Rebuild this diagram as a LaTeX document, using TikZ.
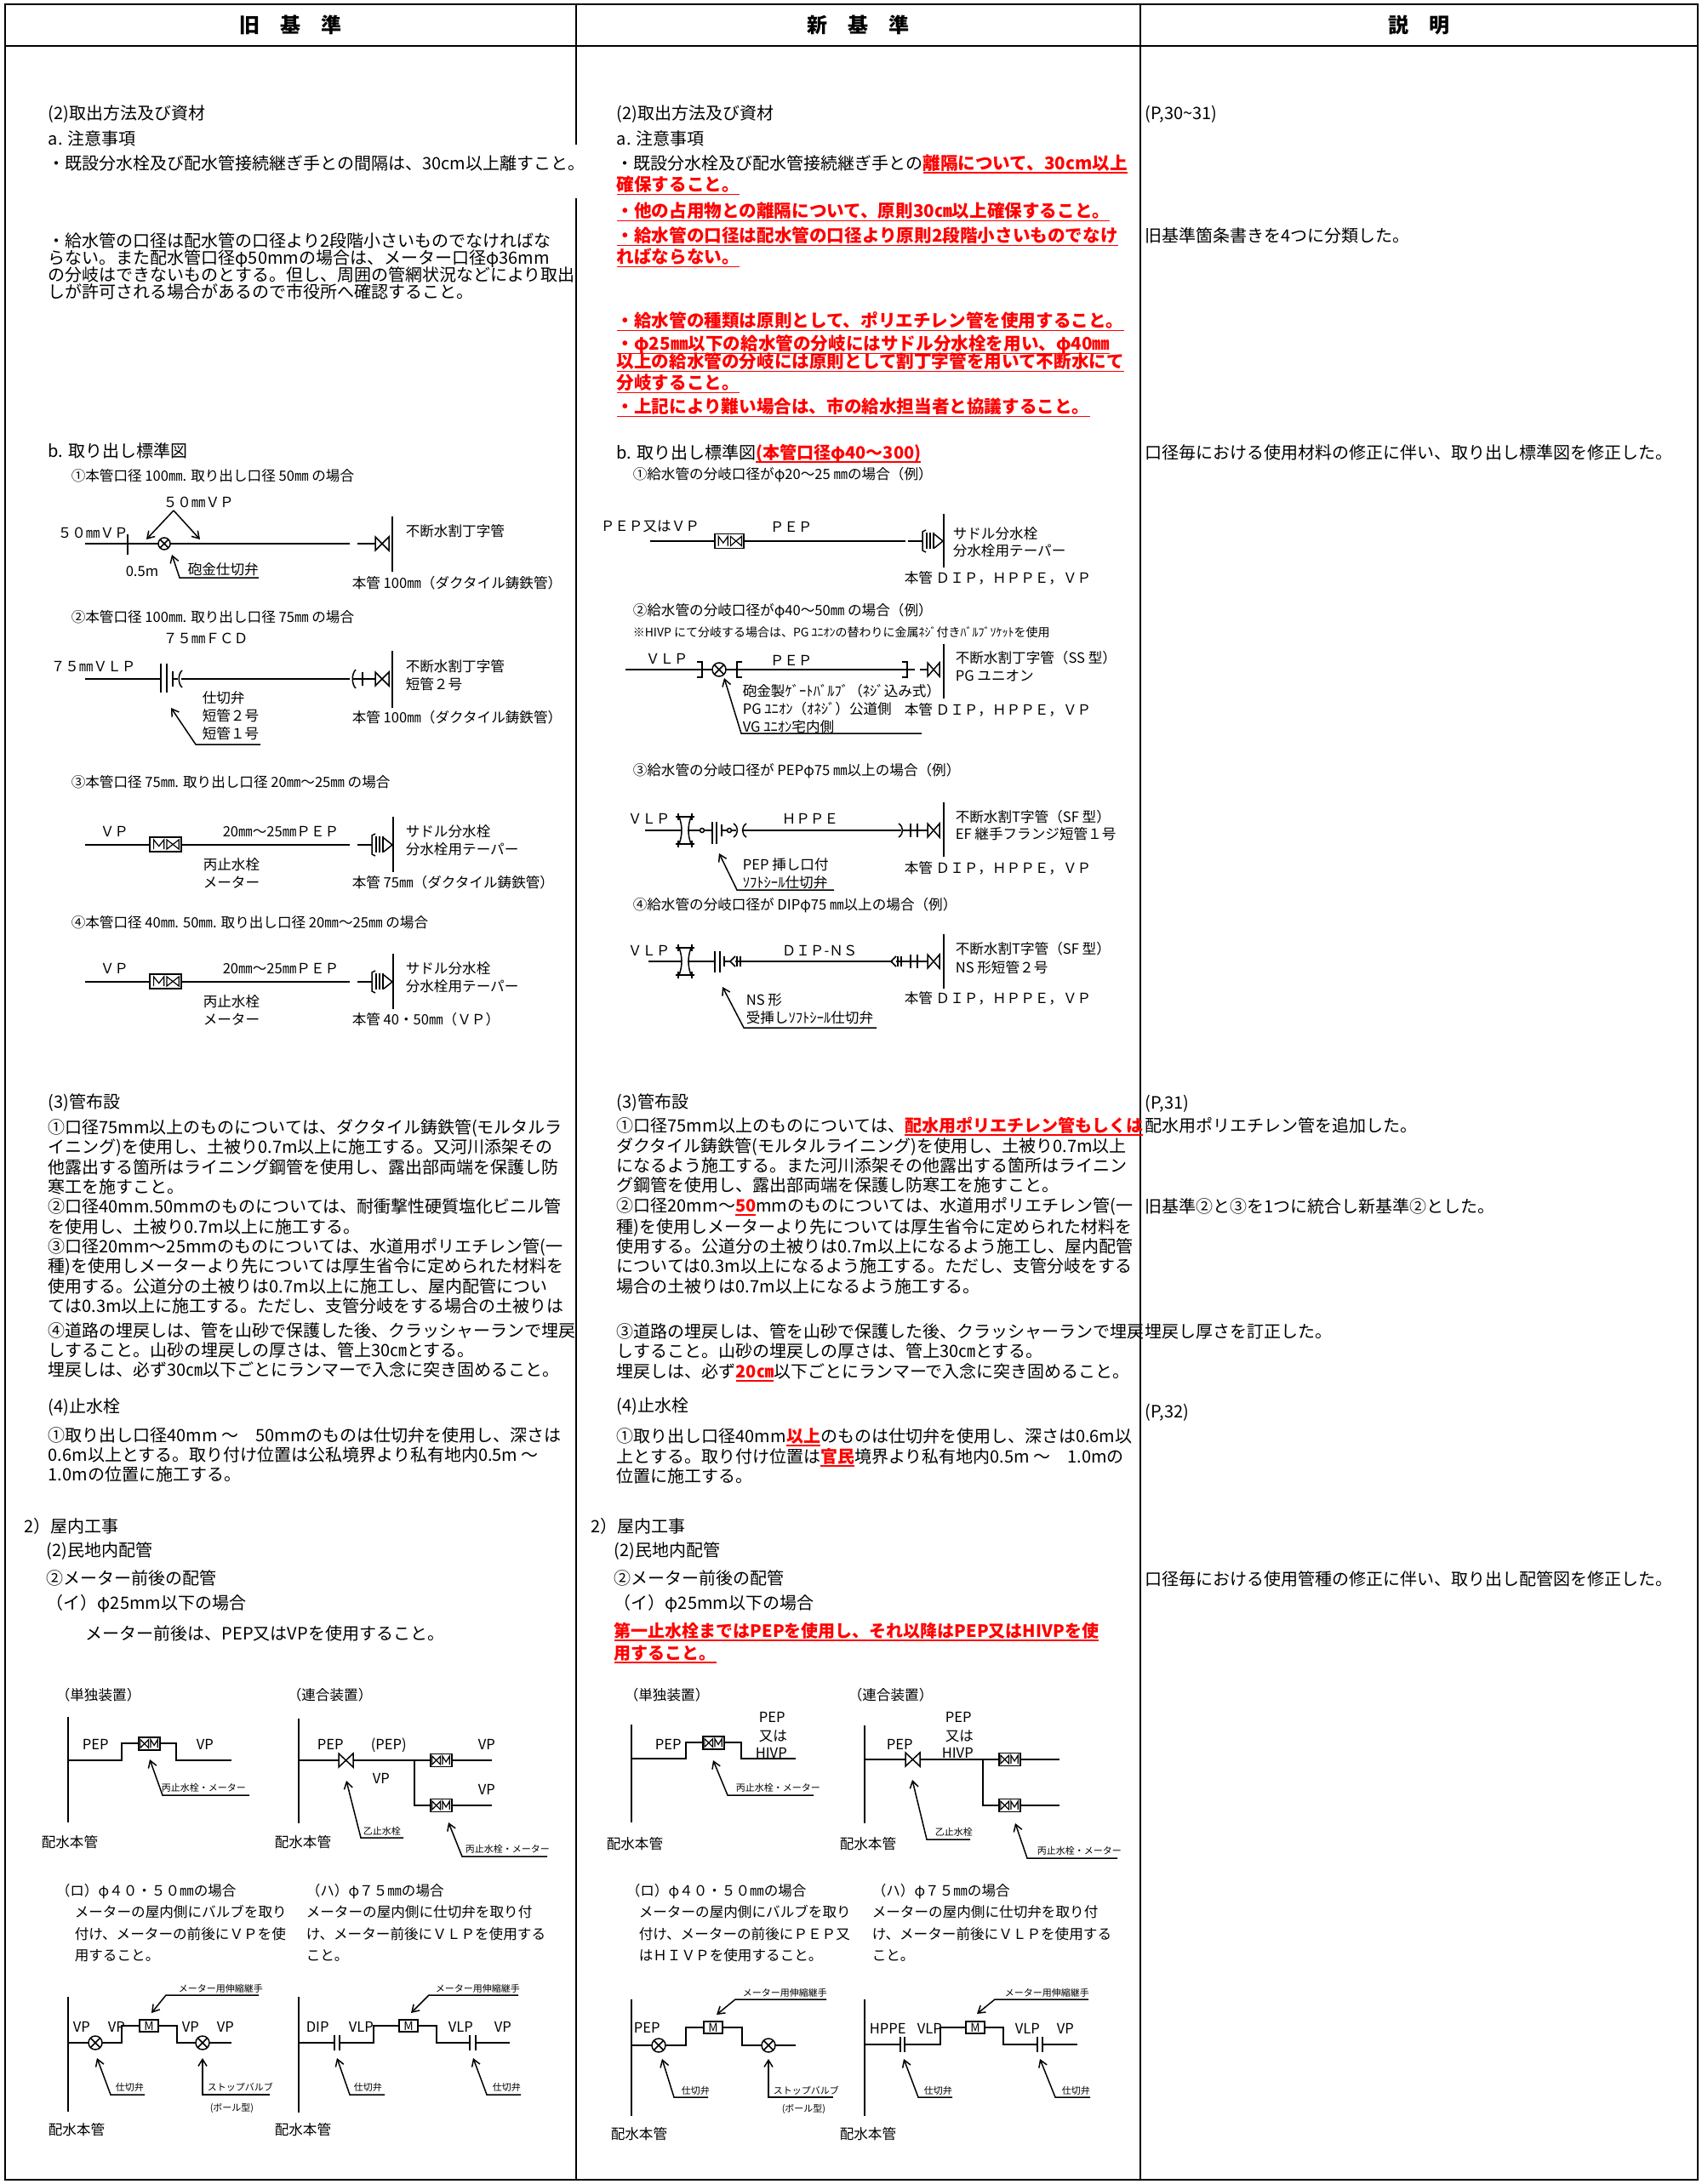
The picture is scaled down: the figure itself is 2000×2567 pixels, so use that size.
\documentclass[tikz,border=0pt]{standalone}
\usepackage{fontspec}
\setmainfont{Noto Sans CJK JP}
\usetikzlibrary{arrows.meta}
\definecolor{rd}{RGB}{255,0,0}
\newcommand\fbody{\fontsize{10pt}{12pt}\selectfont}
\newcommand\fred{\fontsize{10.3pt}{12pt}\selectfont}
\newcommand\fhead{\fontsize{12pt}{14pt}\selectfont\bfseries}
\newcommand\fdia{\fontsize{8.3pt}{10pt}\selectfont}
\newcommand\fsm{\fontsize{7pt}{8pt}\selectfont}
\newcommand\flab{\fontsize{5.5pt}{6pt}\selectfont}
\newcommand\ru[1]{\textcolor{rd}{\bfseries\setbox0\hbox{#1}\rlap{\rule[-2.3pt]{\wd0}{0.9pt}}\box0}}
% M + valve box
\newcommand\MVbox[4]{\begin{scope}[shift={(#1,#2)}]
 \draw[fill=white,line width=0.9pt] ({-#3},{-#4}) rectangle ({#3},{#4});
 \draw[line width=0.6pt] ({-0.75*#3},{0.65*#4})--({-0.75*#3},{-0.65*#4})--({-0.42*#3},{0.25*#4})--({-0.1*#3},{-0.65*#4})--({-0.1*#3},{0.65*#4});
 \draw[line width=0.6pt] ({0.08*#3},{-0.65*#4})--({0.08*#3},{0.65*#4})--({0.85*#3},{-0.65*#4})--({0.85*#3},{0.65*#4})--cycle;
 \end{scope}}
\newcommand\VMbox[4]{\begin{scope}[shift={(#1,#2)}]
 \draw[fill=white,line width=0.9pt] ({-#3},{-#4}) rectangle ({#3},{#4});
 \draw[line width=0.6pt] ({0.12*#3},{0.65*#4})--({0.12*#3},{-0.65*#4})--({0.45*#3},{0.25*#4})--({0.78*#3},{-0.65*#4})--({0.78*#3},{0.65*#4});
 \draw[line width=0.6pt] ({-0.85*#3},{-0.65*#4})--({-0.85*#3},{0.65*#4})--({-0.08*#3},{-0.65*#4})--({-0.08*#3},{0.65*#4})--cycle;
 \end{scope}}
\newcommand\GV[4]{\draw[fill=white] (#1,#3)--(#1,#4)--(#2,#3)--(#2,#4)--cycle;}
\newcommand\CV[3]{\draw[fill=white] (#1,#2) circle[radius=#3];
 \draw ({#1-0.7*#3},{#2-0.7*#3})--({#1+0.7*#3},{#2+0.7*#3}) ({#1-0.7*#3},{#2+0.7*#3})--({#1+0.7*#3},{#2-0.7*#3});}
\newcommand\SDL[2]{\draw ({#1-42},#2)--({#1-25},#2);
 \draw ({#1-21},{#2-13})--({#1-25},{#2-11})--({#1-25},{#2+11})--({#1-21},{#2+13});
 \draw ({#1-20},{#2-10})--({#1-20},{#2+9}) ({#1-16},{#2-10})--({#1-16},{#2+9}) ({#1-12},{#2-10})--({#1-12},{#2+9});
 \draw ({#1-11},{#2-8})--({#1-1},#2)--({#1-11},{#2+8});}
\newcommand\HG[2]{\draw ({#1-11},{#2-16})--({#1+11},{#2-16}) ({#1-11},{#2+16})--({#1+11},{#2+16});
 \draw ({#1-8},{#2-20})--({#1-8},{#2-12}) ({#1+8},{#2-20})--({#1+8},{#2-12}) ({#1-8},{#2+12})--({#1-8},{#2+20}) ({#1+8},{#2+12})--({#1+8},{#2+20});
 \draw ({#1-7},{#2-16}) .. controls ({#1-3},{#2-5}) and ({#1-3},{#2+5}) .. ({#1-7},{#2+16});
 \draw ({#1+7},{#2-16}) .. controls ({#1+3},{#2-5}) and ({#1+3},{#2+5}) .. ({#1+7},{#2+16});}
\begin{document}
\begin{tikzpicture}[x=0.5pt,y=-0.5pt,line width=0.75pt,
 T/.style={anchor=base west,inner sep=0pt,font=\fbody,yshift=-3.8pt},
 TR/.style={anchor=base west,inner sep=0pt,font=\fred,yshift=-3.9pt},
 H/.style={anchor=base,inner sep=0pt,font=\fhead,yshift=-4.6pt},
 D/.style={anchor=base west,inner sep=0pt,font=\fdia,yshift=-3.15pt},
 S/.style={anchor=base west,inner sep=0pt,font=\fsm,yshift=-2.65pt},
 L/.style={anchor=base west,inner sep=0pt,font=\flab,yshift=-2.1pt},
 arr/.style={-{Straight Barb[length=4pt,width=5pt]}},
 frame/.style={line width=1pt},
 mbox/.style={draw,fill=white,line width=0.9pt,inner sep=0pt,minimum width=11pt,minimum height=7pt,font=\fsm}]
\useasboundingbox (0,0) rectangle (2000,2567);
\fill[white] (0,0) rectangle (2000,2567);
% ---------- table ----------
\draw[frame] (6,5) rectangle (1995,2562);
\draw[frame] (6,54)--(1995,54);
\draw[frame] (677,5)--(677,170) (677,233)--(677,2562);
\draw[frame] (1340,5)--(1340,2562);
\node[H] (h1) at (341.5,29) {旧　基　準};
\node[H] (h2) at (1008.5,29) {新　基　準};
\node[H] (h3) at (1667.5,29) {説　明};
% ---------- LEFT text ----------
\node[T] (l1) at (56,133) {(2)取出方法及び資材};
\node[T] (l2) at (56,163) {a. 注意事項};
\node[T] (l3) at (56,192) {・既設分水栓及び配水管接続継ぎ手との間隔は、30cm以上離すこと。};
\node[T] (l4) at (56,283) {・給水管の口径は配水管の口径より2段階小さいものでなければな};
\node[T] (l5) at (56,303) {らない。また配水管口径φ50mmの場合は、メーター口径φ36mm};
\node[T] (l6) at (56,323) {の分岐はできないものとする。但し、周囲の管網状況などにより取出};
\node[T] (l7) at (56,343) {しが許可される場合があるので市役所へ確認すること。};
\node[T] (l8) at (56,530) {b. 取り出し標準図};
% left diagram 1
\node[D] (ld1) at (83,559) {①本管口径 100㎜. 取り出し口径 50㎜ の場合};
\node[D] (ld2) at (191,590) {５０㎜ＶＰ};
\node[D] (ld3) at (67,626) {５０㎜ＶＰ};
\draw (100,639)--(411,639);
\draw (150,628)--(150,652);
\CV{193}{639}{7}
\draw (420,639)--(441,639);
\GV{441}{457}{631}{647}
\draw (461,607)--(461,672);
\coordinate (la1) at (204,600);
\draw[arr] (la1)--(172,634);
\draw[arr] (la1)--(235,634);
\node[D] (ld4) at (476,624) {不断水割丁字管};
\node[D] (ld5) at (147,671) {0.5m};
\node[D] (ld6) at (220,669) {砲金仕切弁};
\draw[arr] (304,679)--(211,679)--(202,652);
\node[D] (ld7) at (413,685) {本管 100㎜（ダクタイル鋳鉄管）};
% left diagram 2
\node[D] (ld8) at (83,725) {②本管口径 100㎜. 取り出し口径 75㎜ の場合};
\node[D] (ld9) at (191,750) {７５㎜ＦＣＤ};
\node[D] (ld10) at (59,783) {７５㎜ＶＬＰ};
\draw (100,798)--(189,798);
\draw (189,780)--(189,814) (196,780)--(196,814);
\draw (203,789)--(203,807) (203,798)--(209,798);
\draw (214,788) .. controls (209,792) and (209,804) .. (214,808);
\draw (213,798)--(411,798);
\draw (418,787) .. controls (413,792) and (413,804) .. (418,809);
\draw (415,798)--(441,798);
\draw (426,790)--(426,806);
\GV{441}{457}{790}{806}
\draw (461,765)--(461,832);
\node[D] (ld11) at (476,783) {不断水割丁字管};
\node[D] (ld12) at (476,804) {短管２号};
\node[D] (ld13) at (237,820) {仕切弁};
\node[D] (ld14) at (237,841) {短管２号};
\node[D] (ld15) at (237,862) {短管１号};
\draw[arr] (306,875)--(230,875)--(201,832);
\node[D] (ld16) at (413,843) {本管 100㎜（ダクタイル鋳鉄管）};
% left diagram 3
\node[D] (ld17) at (83,919) {③本管口径 75㎜. 取り出し口径 20㎜〜25㎜ の場合};
\node[D] (ld18) at (117,977) {ＶＰ};
\draw (100,993)--(411,993);
\MVbox{194.5}{992.5}{18.5}{8.5}
\SDL{462}{993}
\draw (462,960)--(462,1025);
\node[D] (ld19) at (261,977) {20㎜〜25㎜ＰＥＰ};
\node[D] (ld20) at (476,977) {サドル分水栓};
\node[D] (ld21) at (476,998) {分水栓用テーパー};
\node[D] (ld22) at (238,1016) {丙止水栓};
\node[D] (ld23) at (238,1037) {メーター};
\node[D] (ld24) at (413,1037) {本管 75㎜（ダクタイル鋳鉄管）};
% left diagram 4
\node[D] (ld25) at (83,1084) {④本管口径 40㎜. 50㎜. 取り出し口径 20㎜〜25㎜ の場合};
\node[D] (ld26) at (117,1138) {ＶＰ};
\draw (100,1154)--(411,1154);
\MVbox{194.5}{1153.5}{18.5}{8.5}
\SDL{462}{1154}
\draw (462,1121)--(462,1186);
\node[D] (ld27) at (261,1138) {20㎜〜25㎜ＰＥＰ};
\node[D] (ld28) at (476,1138) {サドル分水栓};
\node[D] (ld29) at (476,1159) {分水栓用テーパー};
\node[D] (ld30) at (238,1177) {丙止水栓};
\node[D] (ld31) at (238,1198) {メーター};
\node[D] (ld32) at (413,1198) {本管 40・50㎜（ＶＰ）};
% left section 3
\node[T] (l9) at (56,1295) {(3)管布設};
\node[T] (l10) at (56,1325) {①口径75mm以上のものについては、ダクタイル鋳鉄管(モルタルラ};
\node[T] (l11) at (56,1348) {イニング)を使用し、土被り0.7m以上に施工する。又河川添架その};
\node[T] (l12) at (56,1372) {他露出する箇所はライニング鋼管を使用し、露出部両端を保護し防};
\node[T] (l13) at (56,1395) {寒工を施すこと。};
\node[T] (l14) at (56,1418) {②口径40mm.50mmのものについては、耐衝撃性硬質塩化ビニル管};
\node[T] (l15) at (56,1442) {を使用し、土被り0.7m以上に施工する。};
\node[T] (l16) at (56,1465) {③口径20mm〜25mmのものについては、水道用ポリエチレン管(一};
\node[T] (l17) at (56,1488) {種)を使用しメーターより先については厚生省令に定められた材料を};
\node[T] (l18) at (56,1512) {使用する。公道分の土被りは0.7m以上に施工し、屋内配管につい};
\node[T] (l19) at (56,1535) {ては0.3m以上に施工する。ただし、支管分岐をする場合の土被りは};
\node[T] (l20) at (56,1564) {④道路の埋戻しは、管を山砂で保護した後、クラッシャーランで埋戻};
\node[T] (l21) at (56,1587) {しすること。山砂の埋戻しの厚さは、管上30㎝とする。};
\node[T] (l22) at (56,1610) {埋戻しは、必ず30㎝以下ごとにランマーで入念に突き固めること。};
\node[T] (l23) at (56,1653) {(4)止水栓};
\node[T] (l24) at (56,1687) {①取り出し口径40mm 〜　50mmのものは仕切弁を使用し、深さは};
\node[T] (l25) at (56,1710) {0.6m以上とする。取り付け位置は公私境界より私有地内0.5m 〜};
\node[T] (l26) at (56,1733) {1.0mの位置に施工する。};
\node[T] (l27) at (28,1794) {2）屋内工事};
\node[T] (l28) at (54,1822) {(2)民地内配管};
\node[T] (l29) at (54,1855) {②メーター前後の配管};
\node[T] (l30) at (54,1884) {（イ）φ25mm以下の場合};
\node[T] (l31) at (100,1920) {メーター前後は、PEP又はVPを使用すること。};
% left lower diagrams
\node[D] (lu1) at (65,1992) {（単独装置）};
\draw (80,2018)--(80,2142);
\draw (80,2069)--(143,2069)--(143,2049)--(207,2049)--(207,2069)--(272,2069);
\VMbox{175.5}{2049.5}{12.5}{7.5}
\node[D] (lu2) at (96,2050) {PEP};
\node[D] (lu3) at (230,2050) {VP};
\draw[arr] (293,2110)--(191,2110)--(176,2068);
\node[L] (lu4) at (189,2101) {丙止水栓・メーター};
\node[D] (lu5) at (48,2165) {配水本管};
\node[D] (lu6) at (337,1992) {（連合装置）};
\draw (351,2020)--(351,2143);
\draw (351,2069)--(578,2069);
\GV{398}{415}{2061}{2077}
\draw (487,2069)--(487,2122)--(578,2122);
\VMbox{518.5}{2069}{12.5}{7.5}
\VMbox{518.5}{2122}{12.5}{7.5}
\node[D] (lu7) at (372,2050) {PEP};
\node[D] (lu8) at (435,2050) {(PEP)};
\node[D] (lu9) at (437,2090) {VP};
\node[D] (lu10) at (561,2050) {VP};
\node[D] (lu11) at (561,2103) {VP};
\draw[arr] (474,2160)--(424,2160)--(407,2093);
\node[L] (lu12) at (426,2152) {乙止水栓};
\draw[arr] (643,2182)--(543,2182)--(527,2142);
\node[L] (lu13) at (546,2173) {丙止水栓・メーター};
\node[D] (lu14) at (322,2165) {配水本管};
\node[D] (lu15) at (65,2222) {（ロ）φ４０・５０㎜の場合};
\node[D] (lu16) at (87,2247) {メーターの屋内側にバルブを取り};
\node[D] (lu17) at (87,2273) {付け、メーターの前後にＶＰを使};
\node[D] (lu18) at (87,2298) {用すること。};
\node[D] (lu19) at (359,2222) {（ハ）φ７５㎜の場合};
\node[D] (lu20) at (359,2247) {メーターの屋内側に仕切弁を取り付};
\node[D] (lu21) at (359,2273) {け、メーター前後にＶＬＰを使用する};
\node[D] (lu22) at (359,2298) {こと。};
% (ro) left
\draw (80,2347)--(80,2482);
\draw (80,2401)--(143,2401)--(143,2381)--(208,2381)--(208,2401)--(272,2401);
\CV{112}{2401}{8}
\CV{238}{2401}{8}
\node[mbox] (lm1) at (175,2381) {M};
\node[D] (lu23) at (85,2382) {VP};
\node[D] (lu24) at (126,2382) {VP};
\node[D] (lu25) at (213,2382) {VP};
\node[D] (lu26) at (254,2382) {VP};
\node[L] (lu27) at (209,2337) {メーター用伸縮継手};
\draw[arr] (304,2345)--(195,2345)--(178,2366);
\draw[arr] (170,2462)--(130,2462)--(114,2419);
\node[L] (lu28) at (135,2453) {仕切弁};
\draw[arr] (317,2462)--(238,2462)--(238,2419);
\node[L] (lu29) at (243,2453) {ストップバルブ};
\node[L] (lu30) at (246,2477) {(ボール型)};
\node[D] (lu31) at (56,2503) {配水本管};
% (ha) left
\draw (351,2347)--(351,2483);
\draw (351,2401)--(393,2401) (399,2401)--(439,2401)--(439,2381)--(513,2381)--(513,2401)--(552,2401) (559,2401)--(599,2401);
\draw (393,2392)--(393,2410) (399,2392)--(399,2410) (552,2392)--(552,2410) (559,2392)--(559,2410);
\node[mbox] (lm2) at (480,2381) {M};
\node[D] (lu32) at (359,2382) {DIP};
\node[D] (lu33) at (409,2382) {VLP};
\node[D] (lu34) at (526,2382) {VLP};
\node[D] (lu35) at (580,2382) {VP};
\node[L] (lu36) at (511,2337) {メーター用伸縮継手};
\draw[arr] (609,2345)--(504,2345)--(483,2366);
\draw[arr] (452,2462)--(411,2462)--(396,2419);
\node[L] (lu37) at (415,2453) {仕切弁};
\draw[arr] (612,2462)--(572,2462)--(556,2419);
\node[L] (lu38) at (578,2453) {仕切弁};
\node[D] (lu39) at (322,2503) {配水本管};
% ---------- MIDDLE text ----------
\node[T] (m1) at (724,133) {(2)取出方法及び資材};
\node[T] (m2) at (724,163) {a. 注意事項};
\node[T] (m3) at (724,192) {・既設分水栓及び配水管接続継ぎ手との{\fred\ru{離隔について、30cm以上}}};
\node[TR] (m4) at (724,217) {\ru{確保すること。}};
\node[TR] (m5) at (724,248) {\ru{・他の占用物との離隔について、原則30㎝以上確保すること。}};
\node[TR] (m6) at (724,277) {\ru{・給水管の口径は配水管の口径より原則2段階小さいものでなけ}};
\node[TR] (m7) at (724,302) {\ru{ればならない。}};
\node[TR] (m8) at (724,377) {\ru{・給水管の種類は原則として、ポリエチレン管を使用すること。}};
\node[TR] (m9) at (724,404) {\ru{・φ25㎜以下の給水管の分岐にはサドル分水栓を用い、φ40㎜}};
\node[TR] (m10) at (724,425) {\ru{以上の給水管の分岐には原則として割丁字管を用いて不断水にて}};
\node[TR] (m11) at (724,450) {\ru{分岐すること。}};
\node[TR] (m12) at (724,478) {\ru{・上記により難い場合は、市の給水担当者と協議すること。}};
\node[T] (m13) at (724,532) {b. 取り出し標準図\ru{(本管口径φ40〜300)}};
% middle diagram 1
\node[D] (md1) at (743,557) {①給水管の分岐口径がφ20〜25 ㎜の場合（例）};
\node[D] (md2) at (705,618) {ＰＥＰ又はＶＰ};
\draw (764,636)--(1064,636);
\MVbox{857}{636}{17}{8.5}
\node[D] (md3) at (904,619) {ＰＥＰ};
\SDL{1109}{636}
\draw (1109,604)--(1109,667);
\node[D] (md4) at (1119,627) {サドル分水栓};
\node[D] (md5) at (1119,647) {分水栓用テーパー};
\node[D] (md6) at (1062,679) {本管 ＤＩＰ，ＨＰＰＥ，ＶＰ};
% middle diagram 2
\node[D] (md7) at (743,717) {②給水管の分岐口径がφ40〜50㎜ の場合（例）};
\node[S] (md8) at (743,743) {※HIVP にて分岐する場合は、PG ﾕﾆｵﾝの替わりに金属ﾈｼﾞ付きﾊﾞﾙﾌﾞｿｹｯﾄを使用};
\node[D] (md9) at (758,774) {ＶＬＰ};
\draw (735,787)--(825,787);
\draw (819,778)--(825,778)--(825,796)--(819,796);
\draw (825,787)--(866,787);
\CV{845}{787}{8}
\draw (872,778)--(866,778)--(866,796)--(872,796);
\draw (866,787)--(1066,787);
\draw (1060,778)--(1066,778)--(1066,796)--(1060,796);
\draw (1066,787)--(1075,787) (1081,787)--(1090,787);
\GV{1090}{1104}{779}{795}
\draw (1109,757)--(1109,821);
\node[D] (md10) at (904,776) {ＰＥＰ};
\node[D] (md11) at (1122,773) {不断水割丁字管（SS 型）};
\node[D] (md12) at (1122,794) {PG ユニオン};
\node[D] (md13) at (872,812) {砲金製ｹﾞｰﾄﾊﾞﾙﾌﾞ（ﾈｼﾞ込み式）};
\node[D] (md14) at (872,833) {PG ﾕﾆｵﾝ（ｵﾈｼﾞ）公道側};
\node[D] (md15) at (872,854) {VG ﾕﾆｵﾝ宅内側};
\draw[arr] (1083,862)--(871,862)--(851,797);
\node[D] (md16) at (1062,834) {本管 ＤＩＰ，ＨＰＰＥ，ＶＰ};
% middle diagram 3
\node[D] (md17) at (743,905) {③給水管の分岐口径が PEPφ75 ㎜以上の場合（例）};
\node[D] (md18) at (737,962) {ＶＬＰ};
\draw (758,976)--(801,976);
\HG{805}{976}
\draw (808,976)--(822.5,976);
\draw (825,976) circle[radius=2.5];
\draw (827.5,976)--(837,976);
\draw (837,966)--(837,992) (842,966)--(842,992);
\draw (848,969)--(848,983) (848,976)--(854.5,976);
\draw (857,976) circle[radius=2.5];
\draw (859.5,976)--(865,976);
\draw (862,968) .. controls (868,972) and (868,980) .. (862,984);
\draw (877,968) .. controls (871,972) and (871,980) .. (877,984);
\draw (872,976)--(1059,976);
\draw (1056,968) .. controls (1062,972) and (1062,980) .. (1056,984);
\draw (1061,976)--(1090,976);
\draw (1070,968)--(1070,984) (1078,968)--(1078,984);
\GV{1090}{1104}{968}{984}
\draw (1109,943)--(1109,1007);
\node[D] (md19) at (918,962) {ＨＰＰＥ};
\node[D] (md20) at (1122,960) {不断水割T字管（SF 型）};
\node[D] (md21) at (1122,980) {EF 継手フランジ短管１号};
\node[D] (md22) at (872,1016) {PEP 挿し口付};
\node[D] (md23) at (872,1037) {ｿﾌﾄｼｰﾙ仕切弁};
\draw[arr] (980,1046)--(866,1046)--(845,1003);
\node[D] (md24) at (1062,1020) {本管 ＤＩＰ，ＨＰＰＥ，ＶＰ};
% middle diagram 4
\node[D] (md25) at (743,1063) {④給水管の分岐口径が DIPφ75 ㎜以上の場合（例）};
\node[D] (md26) at (737,1117) {ＶＬＰ};
\draw (762,1130)--(801,1130);
\HG{805}{1130}
\draw (808,1130)--(840,1130);
\draw (840,1118)--(840,1143) (846,1118)--(846,1143);
\draw (851,1124)--(851,1136) (851,1130)--(858,1130);
\draw (864,1124)--(858,1130)--(864,1136);
\draw (866,1124)--(866,1136) (870,1124)--(870,1136);
\draw (864,1130)--(1049,1130);
\draw (1053,1124)--(1047,1130)--(1053,1136);
\draw (1055,1124)--(1055,1136) (1059,1124)--(1059,1136);
\draw (1053,1130)--(1090,1130);
\draw (1070,1122)--(1070,1138) (1078,1122)--(1078,1138);
\GV{1090}{1104}{1122}{1138}
\draw (1109,1098)--(1109,1162);
\node[D] (md27) at (918,1117) {ＤＩＰ-ＮＳ};
\node[D] (md28) at (1122,1115) {不断水割T字管（SF 型）};
\node[D] (md29) at (1122,1137) {NS 形短管２号};
\node[D] (md30) at (876,1175) {NS 形};
\node[D] (md31) at (876,1196) {受挿しｿﾌﾄｼｰﾙ仕切弁};
\draw[arr] (1030,1208)--(874,1208)--(849,1160);
\node[D] (md32) at (1062,1173) {本管 ＤＩＰ，ＨＰＰＥ，ＶＰ};
% middle section 3
\node[T] (m14) at (724,1295) {(3)管布設};
\node[T] (m15) at (724,1323) {①口径75mm以上のものについては、\ru{配水用ポリエチレン管もしくは}};
\node[T] (m16) at (724,1347) {ダクタイル鋳鉄管(モルタルライニング)を使用し、土被り0.7m以上};
\node[T] (m17) at (724,1370) {になるよう施工する。また河川添架その他露出する箇所はライニン};
\node[T] (m18) at (724,1393) {グ鋼管を使用し、露出部両端を保護し防寒工を施すこと。};
\node[T] (m19) at (724,1417) {②口径20mm〜\ru{50}mmのものについては、水道用ポリエチレン管(一};
\node[T] (m20) at (724,1442) {種)を使用しメーターより先については厚生省令に定められた材料を};
\node[T] (m21) at (724,1465) {使用する。公道分の土被りは0.7m以上になるよう施工し、屋内配管};
\node[T] (m22) at (724,1488) {については0.3m以上になるよう施工する。ただし、支管分岐をする};
\node[T] (m23) at (724,1512) {場合の土被りは0.7m以上になるよう施工する。};
\node[T] (m24) at (724,1565) {③道路の埋戻しは、管を山砂で保護した後、クラッシャーランで埋戻};
\node[T] (m25) at (724,1588) {しすること。山砂の埋戻しの厚さは、管上30㎝とする。};
\node[T] (m26) at (724,1612) {埋戻しは、必ず\ru{20㎝}以下ごとにランマーで入念に突き固めること。};
\node[T] (m27) at (724,1652) {(4)止水栓};
\node[T] (m28) at (724,1688) {①取り出し口径40mm\ru{以上}のものは仕切弁を使用し、深さは0.6m以};
\node[T] (m29) at (724,1712) {上とする。取り付け位置は\ru{官民}境界より私有地内0.5m 〜　1.0mの};
\node[T] (m30) at (724,1735) {位置に施工する。};
\node[T] (m31) at (694,1794) {2）屋内工事};
\node[T] (m32) at (721,1822) {(2)民地内配管};
\node[T] (m33) at (721,1855) {②メーター前後の配管};
\node[T] (m34) at (721,1884) {（イ）φ25mm以下の場合};
\node[T] (m35) at (721,1917) {\ru{第一止水栓まではPEPを使用し、それ以降はPEP又はHIVPを使}};
\node[T] (m36) at (721,1943) {\ru{用すること。}};
% middle lower diagrams
\node[D] (mu1) at (733,1992) {（単独装置）};
\draw (742,2027)--(742,2142);
\draw (742,2067)--(806,2067)--(806,2048)--(871,2048)--(871,2067)--(935,2067);
\VMbox{838.5}{2048.5}{12.5}{7.5}
\node[D] (mu2) at (769,2050) {PEP};
\node[D] (mu3) at (891,2018) {PEP};
\node[D] (mu4) at (891,2040) {又は};
\node[D] (mu5) at (887,2060) {HIVP};
\draw[arr] (956,2110)--(855,2110)--(838,2069);
\node[L] (mu6) at (864,2101) {丙止水栓・メーター};
\node[D] (mu7) at (712,2167) {配水本管};
\node[D] (mu8) at (996,1992) {（連合装置）};
\draw (1016,2028)--(1016,2143);
\draw (1016,2068)--(1245,2068);
\GV{1064}{1081}{2060}{2076}
\draw (1155,2068)--(1155,2122)--(1245,2122);
\VMbox{1186.5}{2068}{12.5}{7.5}
\VMbox{1186.5}{2122}{12.5}{7.5}
\node[D] (mu9) at (1041,2050) {PEP};
\node[D] (mu10) at (1110,2018) {PEP};
\node[D] (mu11) at (1110,2040) {又は};
\node[D] (mu12) at (1106,2060) {HIVP};
\draw[arr] (1140,2162)--(1089,2162)--(1072,2092);
\node[L] (mu13) at (1098,2153) {乙止水栓};
\draw[arr] (1313,2184)--(1207,2184)--(1193,2143);
\node[L] (mu14) at (1218,2175) {丙止水栓・メーター};
\node[D] (mu15) at (986,2167) {配水本管};
\node[D] (mu16) at (735,2222) {（ロ）φ４０・５０㎜の場合};
\node[D] (mu17) at (750,2247) {メーターの屋内側にバルブを取り};
\node[D] (mu18) at (750,2273) {付け、メーターの前後にＰＥＰ又};
\node[D] (mu19) at (750,2298) {はＨＩＶＰを使用すること。};
\node[D] (mu20) at (1024,2222) {（ハ）φ７５㎜の場合};
\node[D] (mu21) at (1024,2247) {メーターの屋内側に仕切弁を取り付};
\node[D] (mu22) at (1024,2273) {け、メーター前後にＶＬＰを使用する};
\node[D] (mu23) at (1024,2298) {こと。};
% (ro) middle
\draw (742,2350)--(742,2487);
\draw (742,2404)--(806,2404)--(806,2383)--(872,2383)--(872,2404)--(935,2404);
\CV{774}{2404}{8}
\CV{903}{2404}{8}
\node[mbox] (mm1) at (838,2383) {M};
\node[D] (mu24) at (744,2383) {PEP};
\node[L] (mu25) at (872,2342) {メーター用伸縮継手};
\draw[arr] (971,2350)--(864,2350)--(842,2368);
\draw[arr] (832,2465)--(792,2465)--(778,2420);
\node[L] (mu26) at (800,2457) {仕切弁};
\draw[arr] (979,2465)--(903,2465)--(903,2420);
\node[L] (mu27) at (908,2457) {ストップバルブ};
\node[L] (mu28) at (918,2478) {(ボール型)};
\node[D] (mu29) at (717,2508) {配水本管};
% (ha) middle
\draw (1016,2350)--(1016,2487);
\draw (1016,2403)--(1058,2403) (1063,2403)--(1105,2403)--(1105,2383)--(1179,2383)--(1179,2403)--(1219,2403) (1225,2403)--(1266,2403);
\draw (1058,2394)--(1058,2412) (1063,2394)--(1063,2412) (1219,2394)--(1219,2412) (1225,2394)--(1225,2412);
\node[mbox] (mm2) at (1146,2383) {M};
\node[D] (mu30) at (1021,2384) {HPPE};
\node[D] (mu31) at (1077,2384) {VLP};
\node[D] (mu32) at (1192,2384) {VLP};
\node[D] (mu33) at (1241,2384) {VP};
\node[L] (mu34) at (1180,2342) {メーター用伸縮継手};
\draw[arr] (1279,2350)--(1169,2350)--(1148,2367);
\draw[arr] (1119,2465)--(1079,2465)--(1062,2420);
\node[L] (mu35) at (1085,2457) {仕切弁};
\draw[arr] (1281,2465)--(1240,2465)--(1222,2420);
\node[L] (mu36) at (1247,2457) {仕切弁};
\node[D] (mu37) at (986,2508) {配水本管};
% ---------- RIGHT text ----------
\node[T] (r1) at (1345,133) {(P,30\textasciitilde31)};
\node[T] (r2) at (1345,277) {旧基準箇条書きを4つに分類した。};
\node[T] (r3) at (1345,532) {口径毎における使用材料の修正に伴い、取り出し標準図を修正した。};
\node[T] (r4) at (1345,1296) {(P,31)};
\node[T] (r5) at (1345,1323) {配水用ポリエチレン管を追加した。};
\node[T] (r6) at (1345,1418) {旧基準②と③を1つに統合し新基準②とした。};
\node[T] (r7) at (1345,1565) {埋戻し厚さを訂正した。};
\node[T] (r8) at (1345,1659) {(P,32)};
\node[T] (r9) at (1345,1856) {口径毎における使用管種の修正に伴い、取り出し配管図を修正した。};
\end{tikzpicture}
\end{document}
